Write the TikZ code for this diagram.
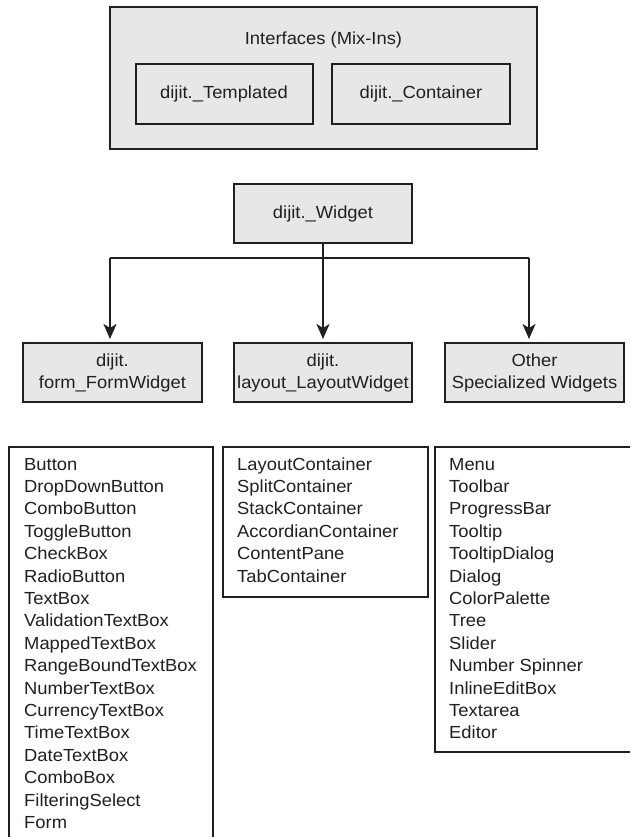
\documentclass[tikz,border=0pt]{standalone}
\usepackage{fontspec}
\setmainfont[FakeStretch=1.05]{Liberation Sans}
\usetikzlibrary{arrows.meta}
\definecolor{ink}{HTML}{231F20}
\definecolor{boxfill}{HTML}{E6E7E8}
\tikzset{
  gbox/.style={draw=ink, line width=2pt, fill=boxfill, inner sep=0pt, align=center, text=ink,
    font=\fontsize{17.5}{22}\selectfont},
  lbox/.style={draw=ink, line width=2pt, fill=white, inner sep=0pt},
  item/.style={anchor=base west, inner sep=0pt, text=ink, font=\fontsize{17.5}{22}\selectfont},
  conn/.style={draw=ink, line width=1.8pt},
  arr/.style={conn, -{Stealth[length=15pt,width=13pt,inset=4pt]}}
}
\begin{document}
\begin{tikzpicture}[x=1pt,y=-1pt]
\useasboundingbox (0,0) rectangle (630,837);
\clip (0,0) rectangle (630,837);
% Interfaces
\node[gbox, minimum width=427pt, minimum height=142pt] (iface) at (323.5,78) {};
\node[text=ink, inner sep=0pt, font=\fontsize{17.5}{22}\selectfont] (ititle) at (323.5,40) {Interfaces (Mix-Ins)};
\node[gbox, minimum width=177pt, minimum height=60pt] (tmpl) at (224,94) {dijit.\_Templated};
\node[gbox, minimum width=178pt, minimum height=60pt] (cont) at (421,94) {dijit.\_Container};
% Widget
\node[gbox, minimum width=178pt, minimum height=59pt] (widget) at (323,213.5) {dijit.\_Widget};
% children
\node[gbox, minimum width=179pt, minimum height=59pt] (form) at (112.5,372.5) {dijit.\\form\_FormWidget};
\node[gbox, minimum width=178pt, minimum height=59pt] (layout) at (323,372.5) {dijit.\\layout\_LayoutWidget};
\node[gbox, minimum width=179pt, minimum height=59pt] (other) at (534.5,372.5) {Other\\Specialized Widgets};
% connectors
\coordinate (bus) at (323,258);
\coordinate (busl) at (110,258);
\coordinate (busr) at (529,258);
\coordinate (tipl) at (110,339);
\coordinate (tipm) at (323,339);
\coordinate (tipr) at (529,339);
\draw[conn] (busl) -- (busr);
\draw[arr] (widget.south) -- (tipm);
\draw[arr] (busl) -- (tipl);
\draw[arr] (busr) -- (tipr);
% list boxes
\node[lbox, minimum width=204pt, minimum height=420pt, anchor=north west] (flist) at (8,446) {};
\node[lbox, minimum width=205pt, minimum height=150pt, anchor=north west] (llist) at (222,446) {};
\node[lbox, minimum width=230pt, minimum height=305pt, anchor=north west] (olist) at (434,446) {};
\foreach \t [count=\i from 0] in {Button,DropDownButton,ComboButton,ToggleButton,CheckBox,RadioButton,TextBox,ValidationTextBox,MappedTextBox,RangeBoundTextBox,NumberTextBox,CurrencyTextBox,TimeTextBox,DateTextBox,ComboBox,FilteringSelect,Form}
  \node[item] (fi\i) at (24,470+22.4*\i) {\t};
\foreach \t [count=\i from 0] in {LayoutContainer,SplitContainer,StackContainer,AccordianContainer,ContentPane,TabContainer}
  \node[item] (li\i) at (237,470+22.4*\i) {\t};
\foreach \t [count=\i from 0] in {Menu,Toolbar,ProgressBar,Tooltip,TooltipDialog,Dialog,ColorPalette,Tree,Slider,Number Spinner,InlineEditBox,Textarea,Editor}
  \node[item] (oi\i) at (449,470+22.4*\i) {\t};
\end{tikzpicture}
\end{document}
